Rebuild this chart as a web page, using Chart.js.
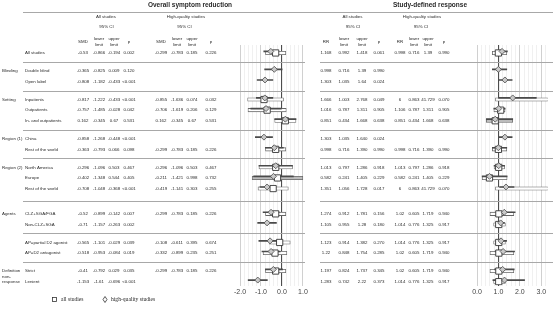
<!DOCTYPE html>
<html>
<head>
  <title>Forest plot - symptom reduction and response</title>
  <script src="https://cdn.jsdelivr.net/npm/chart.js"></script>
  <style>
    body { margin: 0; background: #fff; }
    #wrap { position: relative; width: 553px; height: 316px; }
    #wrap canvas { position: absolute; top: 0; }
  </style>
</head>
<body>
  <div id="wrap">
    <canvas id="smdChart" width="312" height="316" style="left:0px"></canvas>
    <canvas id="rrChart" width="241" height="316" style="left:312px"></canvas>
  </div>
  <script>
    // row structure
    const groupNames = ['', 'Blinding', 'Setting', 'Region (1)', 'Region (2)', 'Agents', '', 'Definition|non-|response'];
    const groupSizes = [1, 2, 3, 2, 3, 2, 2, 2];
    const rowLabels = ['All studies', 'Double blind', 'Open label', 'Inpatients', 'Outpatients', 'In- and outpatients',
      'China', 'Rest of the world', 'North America', 'Europe', 'Rest of the world', 'CLZ+SGA/FGA', 'Non-CLZ+SGA',
      'AP=partial D2 agonist', 'AP=D2 antagonist', 'Strict', 'Lenient'];

    // overall symptom reduction (SMD) - all studies
    const smdAll   = ['-0.53', '-0.365', '-0.808', '-0.817', '-0.757', '0.162', '-0.858', '-0.363', '-0.296', '-0.402', '-0.708', '-0.52', '-0.71', '-0.565', '-0.518', '-0.41', '-1.153'];
    const smdAllLo = ['-0.866', '-0.825', '-1.182', '-1.222', '-1.485', '-0.345', '-1.268', '-0.793', '-1.096', '-1.348', '-1.048', '-0.899', '-1.157', '-1.101', '-0.953', '-0.792', '-1.61'];
    const smdAllHi = ['-0.194', '0.009', '-0.433', '-0.433', '-0.028', '0.67', '-0.448', '0.066', '0.503', '0.544', '-0.368', '-0.142', '-0.263', '-0.029', '-0.084', '0.029', '-0.696'];
    const smdAllP  = ['0.002', '0.120', '<0.001', '<0.001', '0.042', '0.531', '<0.001', '0.098', '0.467', '0.405', '<0.001', '0.007', '0.002', '0.039', '0.019', '0.035', '<0.001'];
    // overall symptom reduction (SMD) - high-quality studies
    const smdHq   = ['-0.299', null, null, '-0.855', '-0.706', '0.162', null, '-0.299', '-0.296', '-0.211', '-0.419', '-0.299', null, '-0.108', '-0.332', '-0.299', null];
    const smdHqLo = ['-0.783', null, null, '-1.636', '-1.619', '-0.345', null, '-0.783', '-1.096', '-1.421', '-1.141', '-0.783', null, '-0.611', '-0.899', '-0.783', null];
    const smdHqHi = ['0.185', null, null, '0.074', '0.206', '0.67', null, '0.185', '0.503', '0.998', '0.303', '0.185', null, '0.395', '0.235', '0.185', null];
    const smdHqP  = ['0.226', null, null, '0.032', '0.129', '0.531', null, '0.226', '0.467', '0.732', '0.255', '0.226', null, '0.674', '0.251', '0.226', null];

    // study-defined response (RR) - all studies
    const rrAll   = ['1.168', '0.998', '1.303', '1.666', '1.016', '0.851', '1.303', '0.998', '1.013', '0.582', '1.351', '1.274', '1.105', '1.123', '1.22', '1.197', '1.283'];
    const rrAllLo = ['0.992', '0.716', '1.035', '1.003', '0.787', '0.434', '1.035', '0.716', '0.797', '0.241', '1.056', '0.912', '0.955', '0.914', '0.848', '0.824', '0.742'];
    const rrAllHi = ['1.418', '1.39', '1.64', '2.768', '1.311', '1.668', '1.640', '1.390', '1.286', '1.405', '1.728', '1.781', '1.28', '1.382', '1.754', '1.737', '2.22'];
    const rrAllP  = ['0.061', '0.990', '0.024', '0.049', '0.905', '0.638', '0.024', '0.990', '0.918', '0.229', '0.017', '0.156', '0.180', '0.270', '0.285', '0.345', '0.373'];
    // study-defined response (RR) - high-quality studies
    const rrHq   = ['0.998', null, null, '6', '1.106', '0.851', null, '0.998', '1.013', '0.582', '6', '1.02', '1.014', '1.014', '1.02', '1.02', '1.014'];
    const rrHqLo = ['0.716', null, null, '0.863', '0.787', '0.434', null, '0.716', '0.797', '0.241', '0.863', '0.605', '0.776', '0.776', '0.605', '0.605', '0.776'];
    const rrHqHi = ['1.39', null, null, '41.729', '1.311', '1.668', null, '1.390', '1.286', '1.405', '41.729', '1.719', '1.325', '1.325', '1.719', '1.719', '1.325'];
    const rrHqP  = ['0.990', null, null, '0.070', '0.905', '0.638', null, '0.990', '0.918', '0.229', '0.070', '0.940', '0.917', '0.917', '0.940', '0.940', '0.917'];

    Chart.defaults.font.family = '"Liberation Sans", Arial, sans-serif';
    const TABLE_FONT = '4.4px "Liberation Sans"';

    // row positions on the y scale: one unit per row plus a gap between groups
    // (the Agents block sits a little further down, as in the source figure)
    const GROUP_GAP = 0.69;
    const gapWeight = [0, 1, 1, 1, 1, 2, 1, 1];
    const rowPos = [];
    const groupStart = [];
    let k = 0, gapSum = 0;
    groupSizes.forEach((n, g) => {
      gapSum += gapWeight[g] * GROUP_GAP;
      groupStart.push(k);
      for (let i = 0; i < n; i++) { rowPos.push(k + gapSum); k++; }
    });
    const groupBreaks = [];
    for (let g = 1; g < groupSizes.length; g++) {
      const s = groupStart[g];
      groupBreaks.push((rowPos[s - 1] + rowPos[s]) / 2);
    }

    const num = v => (v === null ? null : parseFloat(v));
    const mid = (a, b) => (a + b) / 2;

    function forestDatasets(est, lo, hi, hqEst, hqLo, hqHi, shadedRows) {
      const allCi = [], allPt = [], hqCi = [], hqPt = [], hqFill = [];
      rowLabels.forEach((_, i) => {
        const y = rowPos[i];
        allCi.push({ x: [num(lo[i]), num(hi[i])], y: y - 0.15 });
        allPt.push({ x: num(est[i]), y: y - 0.15 });
        if (hqEst[i] !== null) {
          hqCi.push({ x: [num(hqLo[i]), num(hqHi[i])], y: y });
          hqPt.push({ x: num(hqEst[i]), y: y });
          hqFill.push(shadedRows.includes(i) ? '#bcbcbc' : '#ffffff');
        }
      });
      return [
        { type: 'scatter', data: allPt, order: 0, pointStyle: 'rectRot', pointRadius: 3, backgroundColor: '#c9c9c9', borderColor: '#4a4a4a', borderWidth: 0.8, clip: 0 },
        { type: 'scatter', data: hqPt, order: 1, pointStyle: 'rect', pointRadius: 4.4, backgroundColor: '#ffffff', borderColor: '#333', borderWidth: 0.9, clip: 0 },
        { type: 'bar', indexAxis: 'y', data: allCi, order: 2, barThickness: 1, grouped: false, backgroundColor: '#4a4a4a', borderWidth: 0, clip: 0 },
        { type: 'bar', indexAxis: 'y', data: hqCi, order: 3, barThickness: 3.4, grouped: false, backgroundColor: hqFill, borderColor: '#666', borderWidth: 0.8, borderSkipped: false, clip: 0 }
      ];
    }

    function line(ctx, x0, y0, x1, y1) {
      ctx.beginPath();
      ctx.moveTo(x0, y0);
      ctx.lineTo(x1, y1);
      ctx.stroke();
    }

    function tablePlugin(t) {
      return {
        id: 'tableText',
        beforeDatasetsDraw(chart) {
          const ctx = chart.ctx;
          const ys = chart.scales.y;
          ctx.save();
          ctx.strokeStyle = '#a8a8a8';
          ctx.lineWidth = 1;
          line(ctx, t.ruleX0, 12.5, t.ruleX1, 12.5);
          groupBreaks.forEach(p => {
            const py = Math.round(ys.getPixelForValue(p)) + 0.5;
            line(ctx, t.sepX0, py, t.sepX1, py);
          });
          ctx.restore();
        },
        afterDraw(chart) {
          const ctx = chart.ctx;
          const ys = chart.scales.y;
          const c = t.cols;
          ctx.save();
          ctx.fillStyle = '#2a2a2a';
          ctx.textBaseline = 'middle';
          ctx.textAlign = 'center';
          ctx.font = 'bold 6.5px "Liberation Sans"';
          ctx.fillText(t.title, t.titleX, 5);

          ctx.font = TABLE_FONT;
          ctx.fillText('All studies', mid(c[0], c[3]), 17);
          ctx.fillText('High-quality studies', mid(c[4], c[7]), 17);
          ctx.fillText('95% CI', mid(c[1], c[2]), 27);
          ctx.fillText('95% CI', mid(c[5], c[6]), 27);
          [0, 4].forEach(b => {
            ctx.fillText(t.effect, c[b], 42);
            ctx.fillText('lower', c[b + 1], 39);
            ctx.fillText('limit', c[b + 1], 45);
            ctx.fillText('upper', c[b + 2], 39);
            ctx.fillText('limit', c[b + 2], 45);
            ctx.fillText('p', c[b + 3], 42);
          });

          const cells = [t.est, t.lo, t.hi, t.p, t.hqEst, t.hqLo, t.hqHi, t.hqP];
          rowLabels.forEach((lab, i) => {
            const py = ys.getPixelForValue(rowPos[i]);
            cells.forEach((arr, j) => {
              if (arr[i] !== null) ctx.fillText(arr[i], c[j], py);
            });
            if (t.labels) {
              ctx.textAlign = 'left';
              ctx.fillText(lab, 25, py);
              ctx.textAlign = 'center';
            }
          });

          if (t.labels) {
            ctx.textAlign = 'left';
            groupNames.forEach((g, gi) => {
              if (!g) return;
              const py = ys.getPixelForValue(rowPos[groupStart[gi]]);
              g.split('|').forEach((part, li) => ctx.fillText(part, 2, py + li * 5.5));
            });

            // legend
            ctx.strokeStyle = '#333';
            ctx.lineWidth = 0.8;
            ctx.strokeRect(52.5, 297.5, 4, 4);
            ctx.beginPath();
            ctx.moveTo(105, 296.5);
            ctx.lineTo(107, 299.5);
            ctx.lineTo(105, 302.5);
            ctx.lineTo(103, 299.5);
            ctx.closePath();
            ctx.stroke();
            ctx.font = '5.6px "Liberation Serif"';
            ctx.fillText('all studies', 61, 300);
            ctx.fillText('high-quality studies', 111, 300);
          }
          ctx.restore();
        }
      };
    }

    function forestChart(id, t) {
      return new Chart(document.getElementById(id), {
        type: 'scatter',
        data: { datasets: forestDatasets(t.est, t.lo, t.hi, t.hqEst, t.hqLo, t.hqHi, t.shaded) },
        options: {
          responsive: false,
          animation: false,
          devicePixelRatio: 1,
          events: [],
          layout: { padding: { left: t.padLeft, right: t.padRight, top: 45, bottom: 18 } },
          plugins: { legend: { display: false }, tooltip: { enabled: false } },
          scales: {
            x: {
              type: 'linear',
              offset: false,
              min: t.xMin,
              max: t.xMax,
              border: { display: false },
              grid: {
                offset: false,
                drawTicks: false,
                color: ctx => {
                  const v = ctx.tick ? ctx.tick.value : 0;
                  if (Math.abs(v - t.ref) < 1e-6) return '#4d4d4d';
                  if (Math.abs(v - Math.round(v)) < 1e-6) return '#c4c4c4';
                  return '#ececec';
                },
                lineWidth: ctx => (ctx.tick && Math.abs(ctx.tick.value - t.ref) < 1e-6 ? 1.1 : 0.8)
              },
              ticks: {
                stepSize: 0.2,
                autoSkip: false,
                maxRotation: 0,
                includeBounds: false,
                padding: 2,
                color: '#444',
                font: { size: 7 },
                callback: v => (Math.abs(v - Math.round(v)) < 1e-6 ? Number(v).toFixed(1) : '')
              }
            },
            y: {
              type: 'linear',
              display: false,
              offset: false,
              grid: { offset: false },
              reverse: true,
              min: rowPos[0] - 0.75,
              max: rowPos[rowPos.length - 1] + 0.37
            }
          }
        },
        plugins: [tablePlugin(t)]
      });
    }

    forestChart('smdChart', {
      title: 'Overall symptom reduction', titleX: 190, effect: 'SMD', labels: true,
      cols: [83, 99, 114, 129, 161, 177, 192, 211],
      ruleX0: 23, ruleX1: 312, sepX0: 23, sepX1: 305,
      est: smdAll, lo: smdAllLo, hi: smdAllHi, p: smdAllP,
      hqEst: smdHq, hqLo: smdHqLo, hqHi: smdHqHi, hqP: smdHqP,
      shaded: [9], xMin: -2, xMax: 1.1, ref: 0, padLeft: 240, padRight: 7
    });

    forestChart('rrChart', {
      title: 'Study-defined response', titleX: 118, effect: 'RR', labels: false,
      cols: [14, 32, 50, 67, 88, 102, 116, 132],
      ruleX0: 0, ruleX1: 241, sepX0: 8, sepX1: 241,
      est: rrAll, lo: rrAllLo, hi: rrAllHi, p: rrAllP,
      hqEst: rrHq, hqLo: rrHqLo, hqHi: rrHqHi, hqP: rrHqP,
      shaded: [5], xMin: 0, xMax: 3.3, ref: 1, padLeft: 165, padRight: 0
    });
  </script>
</body>
</html>
